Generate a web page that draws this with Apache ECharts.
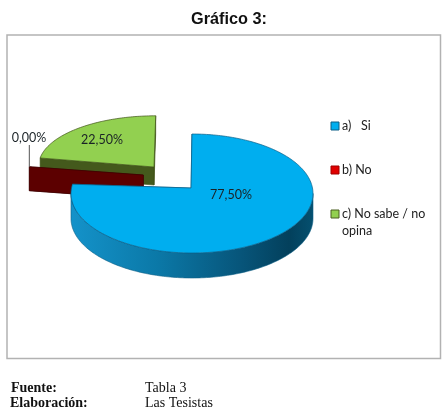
<!DOCTYPE html>
<html>
<head>
<meta charset="utf-8">
<style>html,body{margin:0;padding:0;background:#fff}#chart{width:445px;height:409px}</style>
<script src="https://cdn.jsdelivr.net/npm/echarts@6/dist/echarts.min.js"></script>
</head>
<body>
<div id="chart"></div>
<script>
// Survey answers, in percent
const categories = ['a)   Si', 'b) No', 'c) No sabe / no\nopina'];
const shares = [77.5, 0, 22.5];

const topColors = ['#00aeef', '#e00000', '#92d050'];
const edgeColors = ['#0d5f86', '#3a0000', '#3f5218'];
const wallColors = [
  new echarts.graphic.LinearGradient(72, 0, 313, 0, [
    { offset: 0, color: '#1492c9' },
    { offset: 0.35, color: '#0b79a8' },
    { offset: 0.7, color: '#07557a' },
    { offset: 0.9, color: '#03405c' },
    { offset: 1, color: '#05506f' }
  ], true),
  '#5c0000',
  '#44591c'
];
const swatchBorders = ['#0d5f86', '#a00000', '#4b5e20'];
const legendRows = [126, 170, 214];

// Each exploded slice sits on its own ellipse, with its tip and thickness
const slices = [
  { cx: 192, cy: 193.5, rx: 121, ry: 59.5, tipX: 191, tipY: 188, depth: 25, labelX: 231, labelY: 195, z: 4 },
  { cx: 143.3, cy: 175, rx: 115.4, ry: 53, tipX: 143.3, tipY: 175, depth: 24, labelX: 29, labelY: 138, z: 3 },
  { cx: 155.7, cy: 165.8, rx: 117, ry: 50, tipX: 154, tipY: 167, depth: 18, labelX: 102, labelY: 140, z: 2 }
];

// Running sweep of each slice, clockwise from twelve o'clock, in radians
const total = shares.reduce((a, b) => a + b, 0);
const sweeps = [];
shares.reduce((acc, v, i) => {
  const start = acc / total * Math.PI * 2;
  const end = (acc + v) / total * Math.PI * 2;
  sweeps[i] = [start, end];
  return acc + v;
}, 0);

const rimPoint = (g, a) => [g.cx + g.rx * Math.sin(a), g.cy - g.ry * Math.cos(a)];
const arcPoints = (g, a0, a1) => {
  const steps = Math.max(2, Math.ceil(Math.abs(a1 - a0) / 0.02));
  const pts = [];
  for (let s = 0; s <= steps; s++) pts.push(rimPoint(g, a0 + (a1 - a0) * s / steps));
  return pts;
};
const drop = (pts, d) => pts.map(p => [p[0], p[1] + d]);

function renderSlice(i) {
  const g = slices[i];
  const [a0, a1] = sweeps[i];
  const tip = [g.tipX, g.tipY];
  const children = [];
  const wall = (points) => children.push({
    type: 'polygon',
    shape: { points },
    style: { fill: wallColors[i], stroke: edgeColors[i], lineWidth: 0.6 }
  });

  // Cut faces along both radial edges
  [a0, a1].forEach(a => {
    const p = rimPoint(g, a);
    wall([tip, p, [p[0], p[1] + g.depth], [tip[0], tip[1] + g.depth]]);
  });

  // Outer rim, only where it faces the viewer
  const from = Math.max(a0, Math.PI / 2);
  const to = Math.min(a1, Math.PI * 1.5);
  if (to > from) {
    const rim = arcPoints(g, from, to);
    wall(rim.concat(drop(rim, g.depth).reverse()));
  }

  // Top face
  if (a1 > a0) {
    children.push({
      type: 'polygon',
      shape: { points: [tip].concat(arcPoints(g, a0, a1)) },
      style: { fill: topColors[i], stroke: edgeColors[i], lineWidth: 0.7 }
    });
  }

  // Leader for the empty slice
  if (shares[i] === 0) {
    const p = rimPoint(g, a0);
    children.push({
      type: 'line',
      shape: { x1: p[0], y1: g.labelY + 7, x2: p[0], y2: p[1] },
      style: { stroke: '#555', lineWidth: 1 }
    });
  }

  children.push({
    type: 'text',
    style: {
      x: g.labelX,
      y: g.labelY,
      text: shares[i].toFixed(2).replace('.', ',') + '%',
      font: '12.5px Lato',
      fill: '#1a2226',
      align: 'center',
      verticalAlign: 'middle'
    }
  });
  return { type: 'group', children };
}

const footerText = (x, y, text, weight) => ({
  type: 'text',
  left: x,
  top: y,
  style: { text, font: weight + ' 14px "Liberation Serif"', fill: '#111' }
});

// Key entries: the swatch lines up with the first row of a wrapped name
const keyEntries = categories.flatMap((name, i) => [
  {
    type: 'rect',
    shape: { x: 331, y: legendRows[i] - 4, width: 8, height: 8 },
    style: { fill: topColors[i], stroke: swatchBorders[i], lineWidth: 1 }
  },
  {
    type: 'text',
    x: 342,
    y: legendRows[i] - 8.5,
    style: { text: name, font: '12.5px Lato', fill: '#222', lineHeight: 17, verticalAlign: 'top' }
  }
]);

const chart = echarts.init(document.getElementById('chart'), null, { renderer: 'canvas' });
chart.setOption({
  animation: false,
  backgroundColor: '#fff',
  title: {
    text: 'Gráfico 3:',
    left: 191,
    top: 12,
    padding: 0,
    textStyle: { fontFamily: 'Liberation Sans', fontWeight: 'bold', fontSize: 16.3, color: '#111' }
  },
  graphic: [
    {
      type: 'rect',
      z: -1,
      shape: { x: 7, y: 35, width: 433.5, height: 323.5 },
      style: { fill: '#fff', stroke: '#b2b2b2', lineWidth: 1.5 }
    },
    footerText(11, 381, 'Fuente:', 'bold'),
    footerText(10, 396, 'Elaboración:', 'bold'),
    footerText(145, 381, 'Tabla 3', 'normal'),
    footerText(145, 396, 'Las Tesistas', 'normal')
  ].concat(keyEntries),
  series: categories.map((name, i) => ({
    type: 'custom',
    name,
    coordinateSystem: 'none',
    z: slices[i].z,
    silent: true,
    data: [[shares[i]]],
    renderItem: () => renderSlice(i)
  }))
});
</script>
</body>
</html>
